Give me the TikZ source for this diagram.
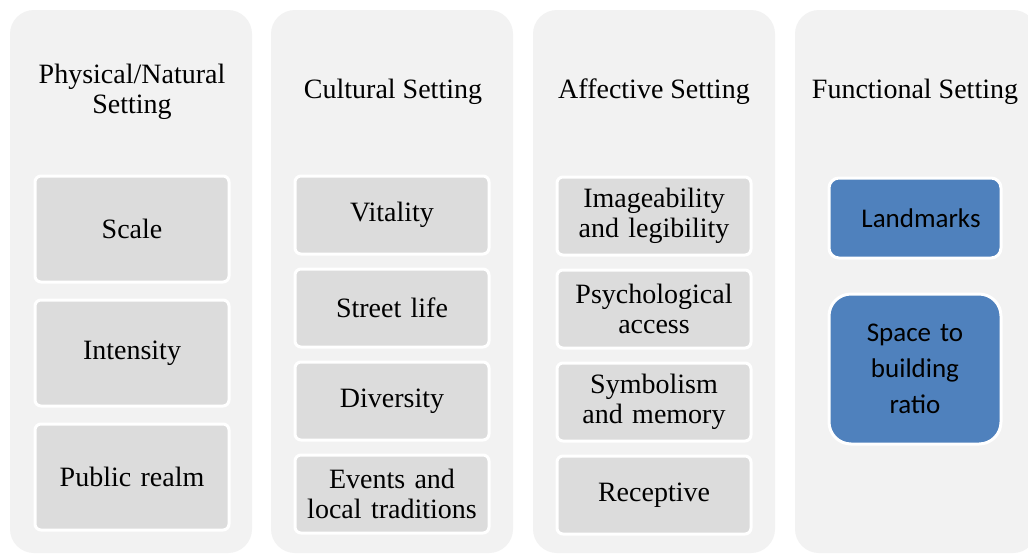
\documentclass[tikz,border=0pt]{standalone}
\usepackage{fontspec}
\setmainfont{Liberation Serif}
\newfontfamily\calibri{Carlito}
\usetikzlibrary{positioning}
\definecolor{panelgray}{RGB}{242,242,242}
\definecolor{itemgray}{RGB}{220,220,220}
\definecolor{itemblue}{RGB}{79,129,189}
\tikzset{
    %Define style for the setting columns
    panel/.style={
           rectangle,
           rounded corners=24pt,
           fill=panelgray,
           minimum width=242pt,
           minimum height=543pt,
           inner sep=0pt},
    % column headings
    heading/.style={align=center, inner sep=0pt, font=\fontsize{28}{30}\selectfont},
    % Define style for grey boxes
    item/.style={
           rectangle,
           rounded corners=6pt,
           fill=itemgray,
           draw=white, line width=3pt,
           text width=190pt,
           inner sep=2pt,
           align=center,
           font=\fontsize{28}{30}\selectfont},
    tallitem/.style={item, minimum height=106pt},
    shortitem/.style={item, minimum height=78pt},
    % blue boxes of the last column
    blueitem/.style={
           item,
           fill=itemblue,
           text width=168pt,
           font=\calibri\fontsize{27}{36}\selectfont}
}

\begin{document}
\begin{tikzpicture}[x=1pt, y=-1pt, node distance=12pt]
  \clip (0,0) rectangle (1028,557);
  \fill[white] (0,0) rectangle (1028,557);
  % columns
  \node[panel] (col1) at (131,281.5) {};
  \node[panel] (col2) at (392,281.5) {};
  \node[panel] (col3) at (654,281.5) {};
  \node[panel] (col4) at (916,281.5) {};
  % headings
  \node[heading] (head1) at (132,92) {Physical/Natural\\Setting};
  \node[heading] (head2) at (393,92) {Cultural Setting};
  \node[heading] (head3) at (654,92) {Affective Setting};
  \node[heading] (head4) at (915,92) {Functional Setting};
  % physical/natural
  \node[tallitem] (scale) at (132,229) {Scale};
  \node[tallitem] (intensity) [below=15pt of scale] {Intensity};
  \node[tallitem] (realm) [below=15pt of intensity] {Public realm};
  % cultural
  \node[shortitem] (vitality) at (392,215) {Vitality};
  \node[shortitem] (street) [below=of vitality] {Street life};
  \node[shortitem] (diversity) [below=of street] {Diversity};
  \node[shortitem] (events) [below=of diversity] {Events and\\local traditions};
  % affective
  \node[shortitem] (image) at (654,216) {Imageability\\and legibility};
  \node[shortitem] (psych) [below=of image] {Psychological\\access};
  \node[shortitem] (symbol) [below=of psych] {Symbolism\\and memory};
  \node[shortitem] (receptive) [below=of symbol] {Receptive};
  % functional
  \node[blueitem, rounded corners=10pt, minimum height=80pt] (landmarks) at (915,218) {\hspace*{12pt}Landmarks};
  \node[blueitem, rounded corners=22pt, minimum height=150pt] (ratio) at (915,369) {Space to\\building\\ratio};
\end{tikzpicture}
\end{document}
